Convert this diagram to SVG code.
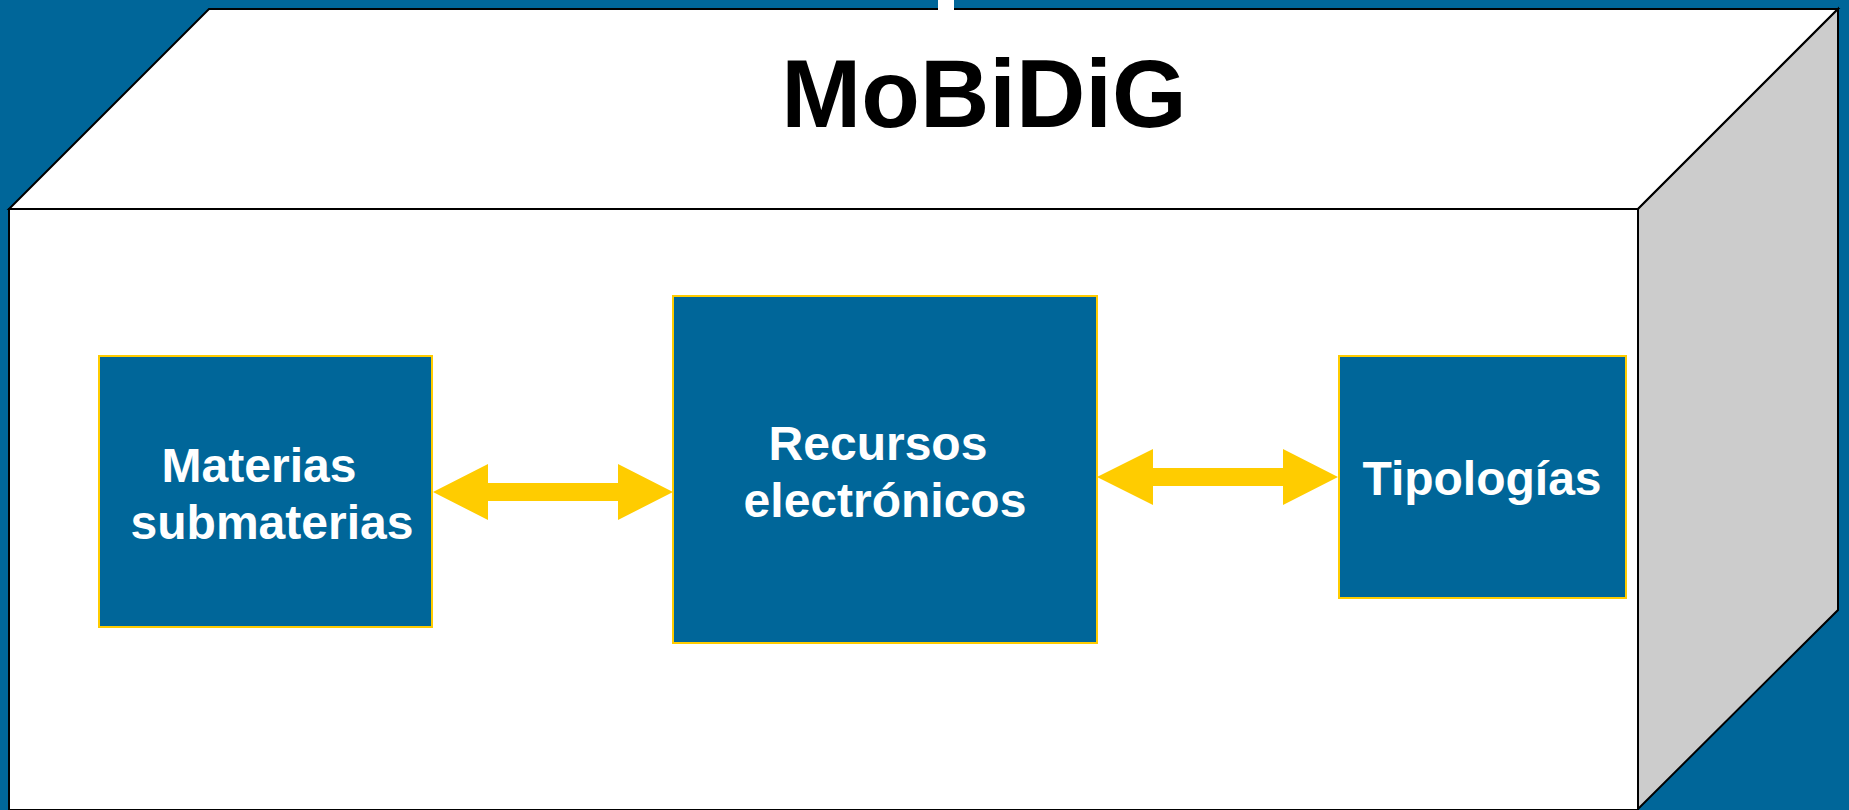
<svg xmlns="http://www.w3.org/2000/svg" width="1849" height="810" viewBox="0 0 1849 810">
<style>
.face{stroke:#000;stroke-width:2;stroke-linejoin:miter}
.box{fill:#006699;stroke:#FFCC00;stroke-width:2}
.lbl{font-family:"Liberation Sans",Arial,sans-serif;font-weight:bold;font-size:48px;fill:#fff;text-anchor:middle}
.title{font-family:"Liberation Sans",Arial,sans-serif;font-weight:bold;font-size:96px;fill:#000;text-anchor:middle}
.arrow{fill:#FFCC00}
</style>
<rect x="0" y="0" width="1849" height="810" fill="#006699"/>
<g id="cube">
<polygon class="face" points="9,209 209,9 1838,9 1638,209" fill="#fff"/>
<polygon class="face" points="1638,209 1838,9 1838,610 1638,809" fill="#cccccc"/>
<rect class="face" x="9" y="209" width="1629" height="601" fill="#fff"/>
<rect x="938" y="0" width="16" height="10" fill="#fff"/>
</g>
<g id="title"><text class="title" x="984" y="127">MoBiDiG</text></g>
<g id="connectors">
<polygon class="arrow" points="433,492 488,464 488,483 618,483 618,464 673,492 618,520 618,501 488,501 488,520"/>
<polygon class="arrow" points="1097,477 1153,449 1153,468 1283,468 1283,449 1338,477 1283,505 1283,486 1153,486 1153,505"/>
</g>
<g id="node-materias">
<rect class="box" x="99" y="356" width="333" height="271"/>
<text class="lbl" x="259" y="482">Materias</text>
<text class="lbl" x="272" y="539">submaterias</text>
</g>
<g id="node-recursos">
<rect class="box" x="673" y="296" width="424" height="347"/>
<text class="lbl" x="878" y="460">Recursos</text>
<text class="lbl" x="885" y="517">electrónicos</text>
</g>
<g id="node-tipologias">
<rect class="box" x="1339" y="356" width="287" height="242"/>
<text class="lbl" x="1482" y="495">Tipologías</text>
</g>
</svg>
